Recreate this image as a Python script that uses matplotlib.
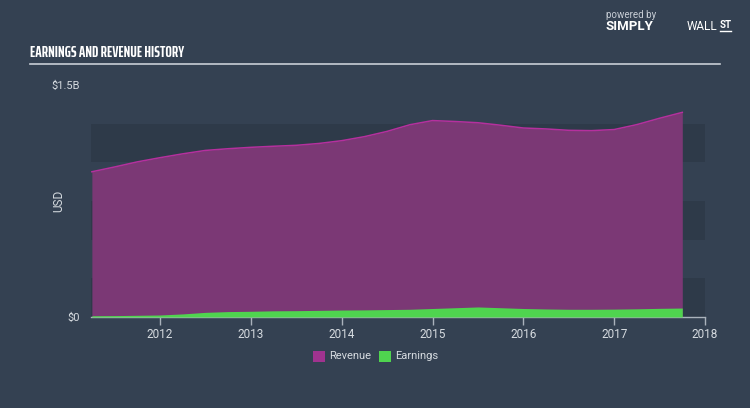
import matplotlib
matplotlib.use("Agg")
import matplotlib.pyplot as plt
from matplotlib.patches import Rectangle

# ---- data (USD billions) ----
dates = [2011.25, 2011.5, 2011.75, 2012.0, 2012.25, 2012.5, 2012.75, 2013.0, 2013.25,
         2013.5, 2013.75, 2014.0, 2014.25, 2014.5, 2014.75, 2015.0, 2015.25, 2015.5,
         2015.75, 2016.0, 2016.25, 2016.5, 2016.75, 2017.0, 2017.25, 2017.5, 2017.75]
revenue = [0.939, 0.970, 1.003, 1.030, 1.055, 1.077, 1.088, 1.097, 1.104,
           1.110, 1.122, 1.140, 1.166, 1.200, 1.243, 1.270, 1.264, 1.256,
           1.240, 1.222, 1.216, 1.207, 1.205, 1.212, 1.244, 1.285, 1.323]
earnings = [0.008, 0.009, 0.011, 0.013, 0.020, 0.030, 0.035, 0.037, 0.040,
            0.041, 0.043, 0.045, 0.046, 0.048, 0.050, 0.055, 0.060, 0.065,
            0.060, 0.055, 0.052, 0.050, 0.050, 0.051, 0.053, 0.056, 0.058]
year_ticks = [2012, 2013, 2014, 2015, 2016, 2017, 2018]
y_tick_vals = [0, 1.5]
y_tick_labels = ["$0", "$1.5B"]

BG = "#344152"
BAND = "#2e3a49"
REV_FILL = "#7b3875"
REV_LINE = "#b5309e"
EARN = "#4fd44f"
TXT = "#d6dbe0"
FONT = ["Roboto", "DejaVu Sans"]
plt.rcParams["font.family"] = FONT

fig = plt.figure(figsize=(7.5, 4.08), dpi=100)
fig.patch.set_facecolor(BG)

W, H = 750, 408
left, right, top, bottom = 91, 705, 85, 317
ax = fig.add_axes([left / W, (H - bottom) / H, (right - left) / W, (bottom - top) / H])
ax.set_facecolor(BG)
x0, x1 = 2012 - 69 / 90.83, 2018.0
ax.set_xlim(x0, x1)
ax.set_ylim(0, 1.5)

for b0 in [0.0, 0.5, 1.0]:
    ax.add_patch(Rectangle((x0, b0), x1 - x0, 0.25, facecolor=BAND, edgecolor="none", zorder=0))

ax.fill_between(dates, 0, revenue, color=REV_FILL, lw=0, zorder=1)
ax.plot(dates, revenue, color=REV_LINE, lw=1.1, zorder=2)
ax.fill_between(dates, 0, earnings, color=EARN, lw=0, zorder=3)

for s in ["top", "right", "left"]:
    ax.spines[s].set_visible(False)
ax.spines["bottom"].set_color("#aab2bc")
ax.spines["bottom"].set_linewidth(1.0)
ax.set_xticks(year_ticks)
ax.set_xticklabels([str(y) for y in year_ticks])
ax.tick_params(axis="x", colors="#aab2bc", length=6, width=1, labelcolor=TXT, labelsize=8.5, pad=2)
ax.set_yticks(y_tick_vals)
ax.set_yticklabels(y_tick_labels)
ax.tick_params(axis="y", length=0, labelcolor=TXT, labelsize=8, pad=8)
ax.set_ylabel("USD", color=TXT, fontsize=8.5)
ax.yaxis.set_label_coords((65 - left) / (right - left), 0.5)

fig.text(30 / W, 1 - 53 / H, "EARNINGS AND REVENUE HISTORY", color="white", fontsize=11,
         fontweight="bold", family=["Saira ExtraCondensed", "DejaVu Sans"], va="center", ha="left")
fig.add_artist(plt.Line2D([30 / W, 720 / W], [1 - 64 / H, 1 - 64 / H], color="#c8ced6", lw=1.2))

fig.text(606 / W, 1 - 15 / H, "powered by", color="#c8ced6", fontsize=7, va="center", ha="left")
fig.text(606 / W, 1 - 27 / H, "SIMPLY", color="white", fontsize=9.5, fontweight="bold", va="center", ha="left")
fig.text(687 / W, 1 - 27 / H, "WALL", color="white", fontsize=8.5, va="center", ha="left")
fig.text(720 / W, 1 - 25 / H, "ST", color="white", fontsize=7, fontweight="bold", va="center", ha="left")
fig.add_artist(plt.Line2D([720 / W, 731 / W], [1 - 31 / H, 1 - 31 / H], color="white", lw=1.0))

lx = [313, 379]
names = ["Revenue", "Earnings"]
cols = ["#a0338f", EARN]
for x, n, c in zip(lx, names, cols):
    fig.add_artist(Rectangle((x / W, 1 - 362 / H), 12 / W, 11 / H, facecolor=c, edgecolor="none"))
    fig.text((x + 16) / W, 1 - 356 / H, n, color=TXT, fontsize=8, va="center", ha="left")

fig.savefig("out.png", dpi=100, facecolor=BG)
